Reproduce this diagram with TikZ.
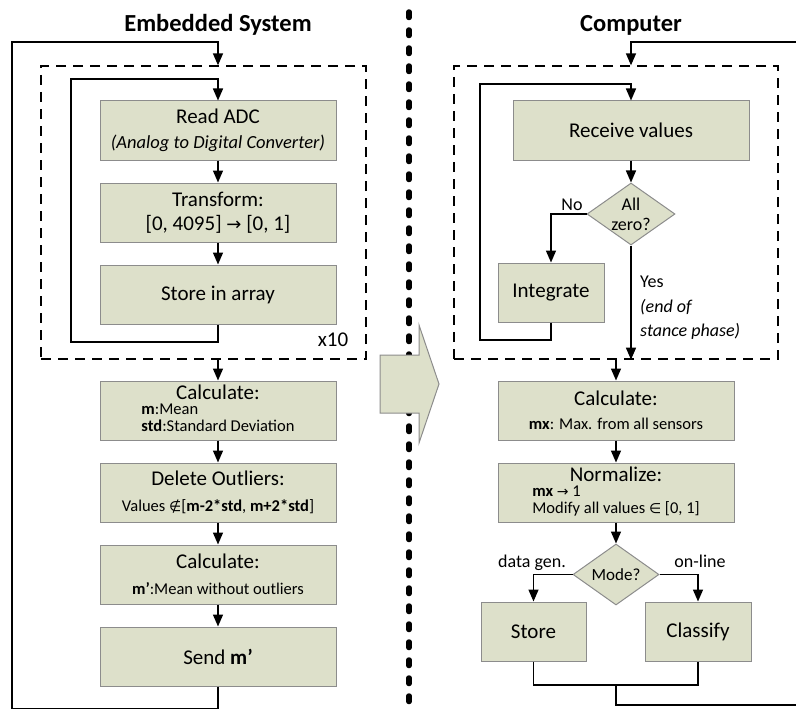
\documentclass[tikz,border=0pt]{standalone}
\usepackage{fontspec}
\setmainfont{Carlito}
\newfontfamily\symfont{DejaVu Sans}
\usetikzlibrary{positioning,shapes.geometric,arrows.meta}

\definecolor{boxfill}{HTML}{DDE0CA}
\definecolor{boxline}{HTML}{8C8C8C}
\newcommand{\smalltxt}{\fontsize{16.5}{17}\selectfont}

\tikzset{
  proc/.style={rectangle, draw=boxline, fill=boxfill, line width=1pt,
    minimum width=236pt, minimum height=59pt, align=center,
    font=\fontsize{21}{24}\selectfont, inner sep=2pt},
  decide/.style={diamond, draw=boxline, fill=boxfill, line width=1pt,
    minimum width=88pt, minimum height=62pt, inner sep=-3pt, shape aspect=1.42,
    align=center, font=\fontsize{18}{20}\selectfont},
  flow/.style={line width=1.5pt, -{Triangle[length=12pt,width=10pt]}},
  conn/.style={line width=1.5pt},
  loopbox/.style={draw, dash pattern=on 10pt off 7pt, line width=1.3pt, inner sep=0pt},
  lbl/.style={font=\fontsize{18}{24.5}\selectfont, inner sep=0pt},
  heading/.style={font=\fontsize{24.5}{28}\selectfont\bfseries}
}

\begin{document}
\begin{tikzpicture}[x=1pt, y=-1pt]
  \useasboundingbox (0,0) rectangle (796,709);

  % separator between the two sides
  \draw[line width=5.5pt, line cap=round, dash pattern=on 5.5pt off 12.5pt] (409,12) -- (409,712);

  % headings
  \node[heading] (eshead) at (218,25) {Embedded System};
  \node[heading] (pchead) at (631,25) {Computer};

  % --- embedded system
  \node[proc] (read) at (218,130.5) {Read ADC\\[1pt]{\fontsize{18.5}{20}\selectfont\itshape (Analog to Digital Converter)}};
  \node[proc, below=22pt of read] (trans) {Transform:\\{}[0, 4095] {\symfont\fontsize{18}{20}\selectfont →} [0, 1]};
  \node[proc, below=22pt of trans] (store) {Store in array};
  \node[loopbox, minimum width=325pt, minimum height=293pt] (esloop) at (203.5,212.5) {};
  \node[lbl, font=\fontsize{21}{24}\selectfont] (rep) at (333,340) {x10};

  \node[proc] (mean) at (218,410.5) {Calculate:\\{\smalltxt\begin{tabular}{@{}l@{}}\textbf{m}:Mean\\\textbf{std}:Standard Deviation\end{tabular}}};
  \node[proc, below=22pt of mean] (outl) {Delete Outliers:\\[2pt]{\smalltxt Values {\symfont\fontsize{14}{16}\selectfont ∉}[\textbf{m-2*std}, \textbf{m+2*std}]}};
  \node[proc, below=22pt of outl] (mean2) {Calculate:\\[2pt]{\smalltxt\textbf{m’}:Mean without outliers}};
  \node[proc, below=22pt of mean2] (send) {Send \textbf{m’}};

  \draw[flow] (read) -- (trans);
  \draw[flow] (trans) -- (store);
  \draw[flow] (store.south) |- (71,342) |- (218,79) -- (read.north);
  \draw[flow] (esloop.south -| mean) -- (mean);
  \draw[flow] (mean) -- (outl);
  \draw[flow] (outl) -- (mean2);
  \draw[flow] (mean2) -- (send);
  \draw[flow] (send.south) -- ++(0,22) -| (12,42) -| (esloop.north -| read);

  % --- computer
  \node[proc] (recv) at (631,130.5) {Receive values};
  \node[decide] (zero) at (631,214) {All\\zero?};
  \node[proc, minimum width=106pt] (integ) at (551,292.5) {Integrate};
  \node[loopbox, minimum width=324pt, minimum height=293pt] (pcloop) at (616,212.5) {};
  \node[lbl] (no) at (572,205) {No};
  \node[lbl, anchor=west, align=left] (yes) at (640,308) {Yes\\\textit{(end of}\\\textit{stance phase)}};

  \node[proc] (maxv) at (616,410.5) {Calculate:\\{\smalltxt\textbf{mx}: Max. from all sensors}};
  \node[proc, below=22pt of maxv] (norm) {Normalize:\\{\smalltxt\begin{tabular}{@{}l@{}}\textbf{mx} {\symfont\fontsize{14}{16}\selectfont →} 1\\Modify all values {\symfont\fontsize{14}{16}\selectfont ∈} [0, 1]\end{tabular}}};
  \node[decide, minimum width=86pt, minimum height=61pt, font=\fontsize{17}{20}\selectfont] (mode) at (616,574.5) {Mode?};
  \node[proc, minimum width=105pt] (save) at (533.5,631.5) {Store};
  \node[proc, minimum width=106pt] (clas) at (698,631.5) {Classify};
  \node[lbl] (gen) at (532,563) {data gen.};
  \node[lbl] (online) at (700,561) {on-line};

  \coordinate (join) at (616,685);
  \coordinate (pcout) at (796,705);
  \coordinate (pcin) at (796,42);

  \draw[flow] (recv) -- (zero);
  \draw[flow] (zero.west) -| (integ.north);
  \draw[flow] (integ.south) |- (480,340) |- (631,84) -- (recv.north);
  \draw[flow] (zero.south) -- (zero.south |- pcloop.south);
  \draw[flow] (pcloop.south -| maxv) -- (maxv);
  \draw[flow] (maxv) -- (norm);
  \draw[flow] (norm) -- (mode);
  \draw[flow] (mode.west) -| (save.north);
  \draw[flow] (mode.east) -| (clas.north);
  \draw[conn] (save.south) |- (join) -| (clas.south);
  \draw[conn] (join) |- (pcout);
  \draw[flow] (pcin) -| (pcloop.north -| recv);

  % big arrow across the separator
  \draw[draw=boxline, fill=boxfill, line width=1pt] (380,355) -- (419,355) -- (419,325) -- (439,384)
    -- (419,443) -- (419,413) -- (380,413) -- cycle;
\end{tikzpicture}
\end{document}
